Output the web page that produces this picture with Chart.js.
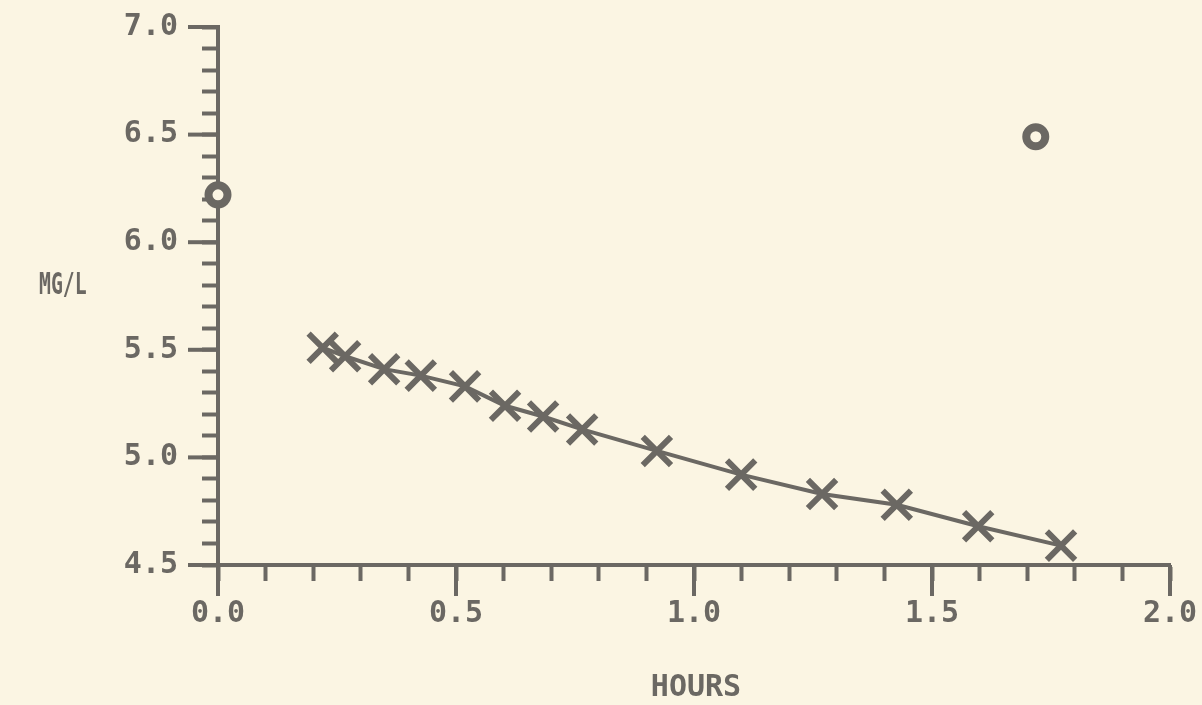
<!DOCTYPE html>
<html>
<head>
<meta charset="utf-8">
<script src="https://cdn.jsdelivr.net/npm/chart.js@4/dist/chart.umd.min.js"></script>
<style>
  html, body { margin: 0; padding: 0; background: #fbf5e3; }
  #wrap { width: 1202px; height: 705px; }
</style>
</head>
<body>
<div id="wrap"><canvas id="graph"></canvas></div>
<script>
// Data
const hours = [0.22, 0.267, 0.349, 0.426, 0.519, 0.603, 0.683, 0.765, 0.922, 1.099, 1.269, 1.426, 1.597, 1.771];
const mgPerL = [5.51, 5.47, 5.41, 5.38, 5.33, 5.24, 5.19, 5.13, 5.03, 4.92, 4.83, 4.78, 4.68, 4.59];
const circleHours = [0.0, 1.718];
const circleMg = [6.22, 6.49];
const xTicks = [0.0, 0.5, 1.0, 1.5, 2.0];
const yTicks = [4.5, 5.0, 5.5, 6.0, 6.5, 7.0];

const INK = '#6b6863';
const PAPER = '#fbf5e3';
const FONT = '"DejaVu Sans Mono", monospace';

const isMajor = (v, list) => list.some((t) => Math.abs(t - v) < 1e-6);

// Titles that sit flat (MG/L) and longer major ticks
const extras = {
  id: 'extras',
  afterDraw(chart) {
    const { ctx, scales } = chart;
    const x = scales.x;
    const y = scales.y;
    ctx.save();
    ctx.strokeStyle = INK;
    ctx.lineWidth = 4;
    xTicks.forEach((t) => {
      const px = x.getPixelForValue(t);
      ctx.beginPath();
      ctx.moveTo(px, y.bottom);
      ctx.lineTo(px, y.bottom + 31);
      ctx.stroke();
    });
    yTicks.forEach((t) => {
      const py = y.getPixelForValue(t);
      ctx.beginPath();
      ctx.moveTo(x.left, py);
      ctx.lineTo(x.left - 30, py);
      ctx.stroke();
    });
    ctx.fillStyle = INK;
    ctx.textBaseline = 'middle';
    ctx.textAlign = 'left';
    ctx.font = 'bold 30px ' + FONT;
    // MG/L is narrow in the original
    ctx.save();
    ctx.translate(39, 286);
    ctx.scale(0.66, 1);
    ctx.fillText('MG/L', 0, 0);
    ctx.restore();
    ctx.textAlign = 'center';
    ctx.fillText('HOURS', 696, 688);
    ctx.restore();
  },
};

const noPad = (scale) => {
  scale.paddingTop = 0;
  scale.paddingBottom = 0;
  scale.paddingLeft = 0;
  scale.paddingRight = 0;
};

const ctx = document.getElementById('graph').getContext('2d');
const chart = new Chart(ctx, {
  type: 'scatter',
  data: {
    datasets: [
      {
        label: 'measured',
        data: hours.map((h, i) => ({ x: h, y: mgPerL[i] })),
        showLine: true,
        borderColor: INK,
        borderWidth: 4,
        pointStyle: 'crossRot',
        pointRadius: 20,
        pointBorderWidth: 6,
        pointBorderColor: INK,
        tension: 0,
        clip: false,
      },
      {
        label: 'reference',
        data: circleHours.map((h, i) => ({ x: h, y: circleMg[i] })),
        showLine: false,
        pointStyle: 'circle',
        pointRadius: 9.5,
        pointBorderWidth: 8,
        pointBorderColor: INK,
        pointBackgroundColor: PAPER,
        clip: false,
      },
    ],
  },
  options: {
    responsive: true,
    maintainAspectRatio: false,
    animation: false,
    layout: { padding: { top: 27, right: 32, left: 0, bottom: 0 } },
    plugins: { legend: { display: false }, tooltip: { enabled: false } },
    scales: {
      x: {
        type: 'linear',
        min: 0,
        max: 2,
        afterBuildTicks: (scale) => {
          scale.ticks = [];
          for (let i = 0; i <= 20; i++) scale.ticks.push({ value: i / 10 });
        },
        afterFit: (scale) => { scale.height = 140; noPad(scale); },
        border: { color: INK, width: 4 },
        grid: { drawOnChartArea: false, tickLength: 16, tickColor: INK, tickWidth: 4 },
        ticks: {
          autoSkip: false,
          maxRotation: 0,
          padding: 15,
          color: INK,
          font: { family: FONT, size: 30, weight: 'bold' },
          callback: (v) => (isMajor(v, xTicks) ? v.toFixed(1) : ''),
        },
      },
      y: {
        type: 'linear',
        min: 4.5,
        max: 7.0,
        afterBuildTicks: (scale) => {
          scale.ticks = [];
          for (let i = 45; i <= 70; i++) scale.ticks.push({ value: i / 10 });
        },
        afterFit: (scale) => { scale.width = 218; noPad(scale); },
        border: { color: INK, width: 4 },
        grid: { drawOnChartArea: false, tickLength: 16, tickColor: INK, tickWidth: 4 },
        ticks: {
          autoSkip: false,
          padding: 24,
          color: INK,
          font: { family: FONT, size: 30, weight: 'bold' },
          callback: (v) => (isMajor(v, yTicks) ? v.toFixed(1) : ''),
        },
      },
    },
  },
  plugins: [extras],
});
</script>
</body>
</html>
